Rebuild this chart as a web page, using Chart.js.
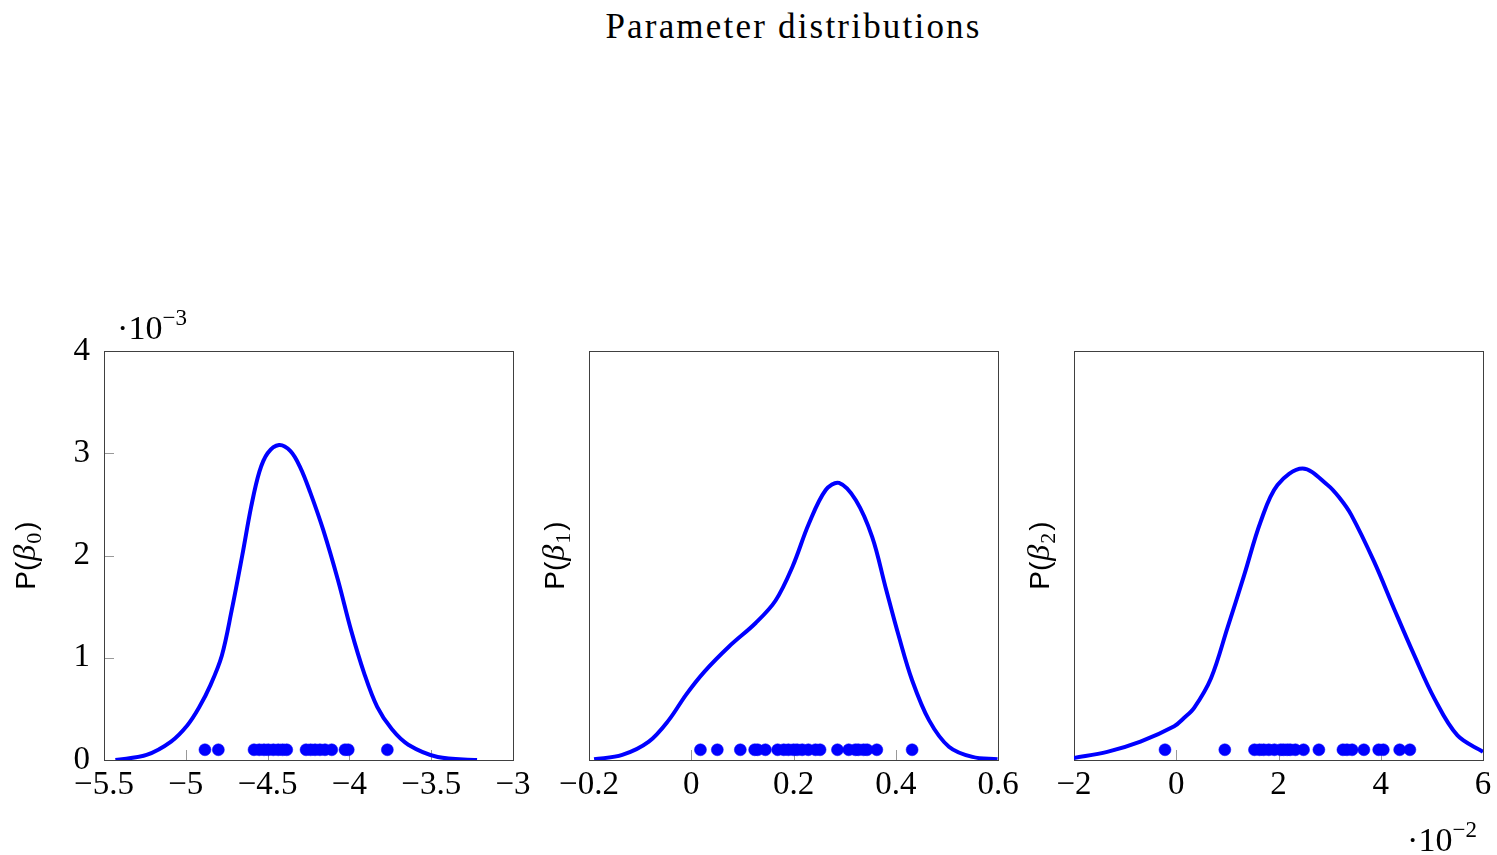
<!DOCTYPE html>
<html>
<head>
<meta charset="utf-8">
<script src="https://cdn.jsdelivr.net/npm/chart.js@4/dist/chart.umd.min.js"></script>
<style>
  body { margin: 0; background: #fff; width: 1497px; height: 855px; position: relative; overflow: hidden; }
  #titulo { position: absolute; left: 104px; width: 1379px; top: 9px; text-align: center;
    font: 35px "Liberation Serif", serif; line-height: 35px; letter-spacing: 2.2px; color: #000; }
  canvas { position: absolute; top: 300px; }
</style>
</head>
<body>
<div id="titulo">Parameter distributions</div>
<canvas id="c0" width="535" height="555" style="left:0px"></canvas>
<canvas id="c1" width="490" height="555" style="left:530px"></canvas>
<canvas id="c2" width="482" height="555" style="left:1015px"></canvas>
<script>
// amostras (pontos no pé do gráfico) e curvas de densidade, y em unidades de 1e-3
const beta0Amostras = [-4.883, -4.801, -4.583, -4.551, -4.522, -4.496, -4.465, -4.435, -4.408, -4.383,
  -4.265, -4.237, -4.210, -4.180, -4.149, -4.108, -4.027, -4.007, -3.768];
const beta0CurvaX = [-5.43, -5.24, -5.09, -4.99, -4.92, -4.85, -4.78, -4.72, -4.655, -4.60, -4.55, -4.50,
  -4.43, -4.36, -4.30, -4.24, -4.16, -4.07, -3.99, -3.91, -3.83, -3.74, -3.64, -3.46, -3.22];
const beta0CurvaY = [0, 0.05, 0.18, 0.34, 0.51, 0.73, 1.02, 1.46, 2.0, 2.48, 2.82, 3.0,
  3.08, 3.02, 2.86, 2.62, 2.25, 1.76, 1.27, 0.85, 0.52, 0.30, 0.15, 0.03, 0];

const beta1Amostras = [0.018, 0.051, 0.096, 0.124, 0.130, 0.145, 0.169, 0.181, 0.190, 0.200, 0.207,
  0.217, 0.229, 0.243, 0.252, 0.286, 0.308, 0.321, 0.327, 0.337, 0.344, 0.363, 0.432];
const beta1CurvaX = [-0.19, -0.135, -0.083, -0.044, -0.01, 0.025, 0.074, 0.126, 0.165, 0.198, 0.230,
  0.263, 0.289, 0.322, 0.354, 0.380, 0.406, 0.432, 0.465, 0.504, 0.550, 0.599];
const beta1CurvaY = [0.007, 0.05, 0.18, 0.39, 0.64, 0.86, 1.11, 1.34, 1.56, 1.89, 2.31,
  2.64, 2.71, 2.54, 2.18, 1.69, 1.21, 0.78, 0.39, 0.13, 0.03, 0.007];

// beta2 em unidades de 1e-2
const beta2Amostras = [-0.22, 0.95, 1.53, 1.63, 1.71, 1.81, 1.92, 2.04, 2.10, 2.17, 2.23,
  2.33, 2.49, 2.79, 3.26, 3.34, 3.44, 3.67, 3.96, 4.05, 4.37, 4.57];
const beta2CurvaX = [-2, -1.35, -0.70, -0.04, 0.15, 0.35, 0.68, 1.0, 1.33, 1.65, 1.98, 2.47,
  2.96, 3.20, 3.42, 3.87, 4.26, 4.65, 5.05, 5.5, 6.0];
const beta2CurvaY = [0.02, 0.08, 0.18, 0.33, 0.41, 0.51, 0.80, 1.29, 1.81, 2.33, 2.69, 2.85,
  2.69, 2.56, 2.40, 1.94, 1.48, 1.03, 0.60, 0.24, 0.08];

const alturaAmostra = 0.1;
const azul = "#0000ff";
const serif = '"Liberation Serif", serif';
const sans = '"Liberation Sans", sans-serif';

const fmt = v => (Math.round(v * 100) / 100).toString().replace("-", "\u2212");

// desenha texto com partes em fontes diferentes, centrado em x
function textoRico(ctx, partes, x, y, rot) {
  ctx.save();
  ctx.translate(x, y);
  if (rot) ctx.rotate(rot);
  ctx.textBaseline = "alphabetic";
  ctx.textAlign = "left";
  ctx.fillStyle = "#000";
  let total = 0;
  partes.forEach(p => { ctx.font = p.f; total += ctx.measureText(p.t).width + (p.gap || 0); });
  let cx = -total / 2;
  partes.forEach(p => {
    ctx.font = p.f;
    ctx.fillText(p.t, cx, p.dy || 0);
    cx += ctx.measureText(p.t).width + (p.gap || 0);
  });
  ctx.restore();
}

function pluginMoldura(cfg) {
  return {
    id: "moldura",
    beforeDatasetsDraw(chart) {
      const { ctx, chartArea: a, scales } = chart;
      ctx.save();
      ctx.strokeStyle = "#999";
      ctx.lineWidth = 1;
      scales.x.ticks.forEach((t, i) => {
        const px = Math.round(scales.x.getPixelForTick(i)) + 0.5;
        ctx.beginPath(); ctx.moveTo(px, a.bottom); ctx.lineTo(px, a.bottom - 10); ctx.stroke();
      });
      if (cfg.ticksY) {
        scales.y.ticks.forEach((t, i) => {
          const py = Math.round(scales.y.getPixelForTick(i)) + 0.5;
          ctx.beginPath(); ctx.moveTo(a.left, py); ctx.lineTo(a.left + 10, py); ctx.stroke();
        });
      }
      ctx.strokeStyle = "#404040";
      ctx.strokeRect(Math.round(a.left) + 0.5, Math.round(a.top) + 0.5,
        Math.round(a.right - a.left), Math.round(a.bottom - a.top));
      ctx.restore();
    },
    afterDraw(chart) {
      const { ctx, chartArea: a } = chart;
      const meio = (a.left + a.right) / 2;
      // rótulo do eixo x
      textoRico(ctx, [
        { t: "\u03b2", f: "italic 32px " + serif },
        { t: cfg.indice, f: "22px " + serif, dy: 7 }
      ], meio, 838);
      // rótulo do eixo y
      textoRico(ctx, [
        { t: "P(", f: "28px " + sans, gap: 1 },
        { t: "\u03b2", f: "italic 32px " + serif, gap: 1 },
        { t: cfg.indice, f: "22px " + serif, dy: 6, gap: 2 },
        { t: ")", f: "28px " + sans }
      ], cfg.yLabelX, (a.top + a.bottom) / 2, -Math.PI / 2);
      if (cfg.expoente) {
        const e = cfg.expoente;
        textoRico(ctx, [
          { t: "\u00b710", f: "34px " + serif },
          { t: e.t, f: "23px " + serif, dy: -14 }
        ], e.x, e.y);
      }
    }
  };
}

function montarPainel(id, opt) {
  const canvas = document.getElementById(id);
  const alturaCanvas = canvas.height;
  return new Chart(canvas, {
    type: "scatter",
    data: {
      datasets: [
        {
          data: opt.curvaX.map((x, i) => ({ x, y: opt.curvaY[i] })),
          showLine: true,
          borderColor: azul,
          borderWidth: 4,
          pointRadius: 0,
          tension: 0.35,
          fill: false
        },
        {
          data: opt.amostras.map(x => ({ x, y: alturaAmostra })),
          pointRadius: 6,
          pointBackgroundColor: azul,
          pointBorderColor: azul,
          pointBorderWidth: 0.5
        }
      ]
    },
    options: {
      responsive: false,
      animation: false,
      devicePixelRatio: 1,
      layout: { padding: { top: 51, right: opt.padDir, left: 0, bottom: 0 } },
      plugins: { legend: { display: false }, tooltip: { enabled: false } },
      scales: {
        x: {
          type: "linear", min: opt.xMin, max: opt.xMax,
          grid: { display: false, drawTicks: false },
          border: { display: false },
          ticks: {
            stepSize: opt.xPasso, autoSkip: false, maxRotation: 0, padding: 6,
            color: "#000", font: { family: serif, size: 33, lineHeight: 1.2 },
            callback: v => fmt(v)
          },
          afterFit: s => { s.height = alturaCanvas - 460; s.paddingLeft = 0; s.paddingRight = 0; }
        },
        y: {
          type: "linear", min: 0, max: 4,
          grid: { display: false, drawTicks: false },
          border: { display: false },
          ticks: {
            display: opt.ticksY, stepSize: 1, padding: 14,
            color: "#000", font: { family: serif, size: 33, lineHeight: 1.2 },
            callback: v => fmt(v)
          },
          afterFit: s => { s.width = opt.larguraY; s.paddingTop = 0; s.paddingBottom = 0; }
        }
      }
    },
    plugins: [pluginMoldura({
      indice: opt.indice, ticksY: opt.ticksY, yLabelX: opt.yLabelX, expoente: opt.expoente
    })]
  });
}

montarPainel("c0", {
  curvaX: beta0CurvaX, curvaY: beta0CurvaY, amostras: beta0Amostras,
  xMin: -5.5, xMax: -3, xPasso: 0.5, indice: "0", ticksY: true,
  larguraY: 104, padDir: 22, yLabelX: 35,
  expoente: { t: "\u22123", x: 152, y: 39 }
});
montarPainel("c1", {
  curvaX: beta1CurvaX, curvaY: beta1CurvaY, amostras: beta1Amostras,
  xMin: -0.2, xMax: 0.6, xPasso: 0.2, indice: "1", ticksY: false,
  larguraY: 59, padDir: 22, yLabelX: 34
});
montarPainel("c2", {
  curvaX: beta2CurvaX, curvaY: beta2CurvaY, amostras: beta2Amostras,
  xMin: -2, xMax: 6, xPasso: 2, indice: "2", ticksY: false,
  larguraY: 59, padDir: 14, yLabelX: 34,
  expoente: { t: "\u22122", x: 427, y: 551 }
});
</script>
</body>
</html>
